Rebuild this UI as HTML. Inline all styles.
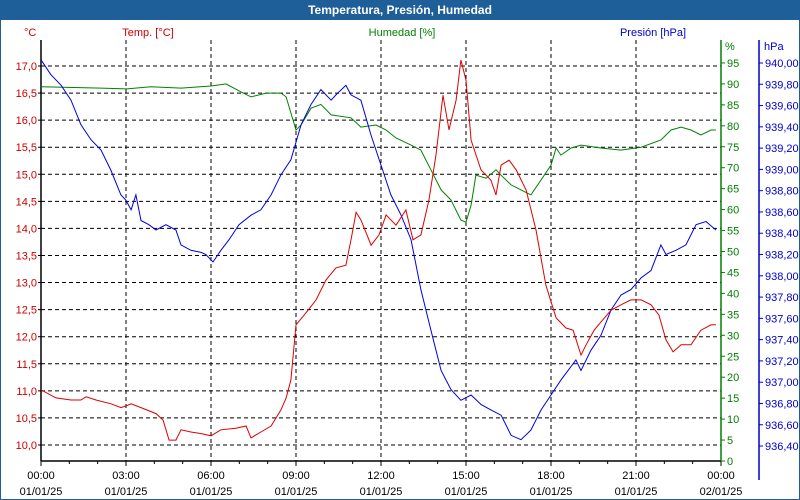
<!DOCTYPE html>
<html><head><meta charset="utf-8"><style>
body{margin:0;background:#fff}
#wrap{position:relative;width:800px;height:500px;box-sizing:border-box;border:1px solid #1f5f99;border-top:none;overflow:hidden;font-family:"Liberation Sans",sans-serif}
#title{height:20px;background:#1f5f99;color:#fff;font-weight:bold;font-size:12px;text-align:center;line-height:20px}
svg text{font-family:"Liberation Sans",sans-serif;font-size:11px}
</style></head><body>
<div id="wrap">
<div id="title">Temperatura, Presión, Humedad</div>
<svg id="chart" width="800" height="480" style="position:absolute;left:-1px;top:20px"></svg>
</div>
<script>
const tempHours=[0,0.53,1.06,1.41,1.59,1.94,2.47,2.82,3,3.18,3.53,4.06,4.31,4.52,4.76,4.94,5.29,5.65,6,6.35,6.88,7.24,7.41,7.76,8.12,8.47,8.65,8.82,9,9.35,9.71,10.06,10.41,10.76,10.94,11.12,11.29,11.65,11.93,12.18,12.53,12.88,13.13,13.41,13.69,13.94,14.19,14.4,14.65,14.82,15,15.18,15.53,15.88,16.06,16.24,16.52,16.77,17.12,17.47,17.82,18.18,18.53,18.78,19.06,19.24,19.52,19.76,20.12,20.47,20.82,21.18,21.53,21.81,22.06,22.31,22.59,22.94,23.29,23.65,23.82];
const tempValues=[11.02,10.87,10.83,10.83,10.89,10.83,10.76,10.69,10.72,10.76,10.69,10.58,10.46,10.09,10.09,10.28,10.24,10.21,10.17,10.28,10.31,10.35,10.13,10.24,10.35,10.65,10.87,11.2,12.22,12.44,12.68,13.05,13.27,13.32,13.79,14.3,14.16,13.69,13.88,14.25,14.06,14.34,13.79,13.88,14.52,15.36,16.46,15.82,16.37,17.11,16.74,15.63,15.08,14.89,14.62,15.17,15.26,15.08,14.71,13.97,12.95,12.35,12.16,12.12,11.66,11.85,12.12,12.27,12.49,12.59,12.68,12.68,12.59,12.4,11.94,11.72,11.85,11.85,12.12,12.22,12.22];
const humHours=[0,2.12,3,3.88,4.94,6,6.53,7.06,7.41,7.94,8.47,8.65,9,9.18,9.53,9.88,10.24,10.94,11.29,11.82,12.18,12.53,13.06,13.41,13.76,14.12,14.47,14.82,15,15.18,15.35,15.71,16.06,16.24,16.59,16.94,17.29,17.65,18,18.18,18.35,18.71,19.06,19.76,20.47,21.18,21.88,22.24,22.59,22.94,23.29,23.65,23.82];
const humValues=[89.3,89,88.8,89.3,89,89.5,90,88.1,86.9,87.8,87.8,86.9,79,80.2,84.2,85.1,82.6,81.9,79.7,80.2,79,77.1,75.4,74.2,69.5,64.7,62.3,57.5,57,61.1,68.2,67.5,69.5,68.2,65.9,64.7,63.5,67.1,70.6,74.7,73,74.7,75.4,74.7,74.2,74.9,76.6,79,79.7,79,77.8,79,79];
const presHours=[0,0.35,0.71,1.06,1.41,1.76,2.12,2.47,2.82,3,3.18,3.35,3.53,3.81,4.06,4.41,4.76,4.94,5.29,5.65,5.82,6.07,6.35,6.64,6.99,7.41,7.76,8.12,8.47,8.82,9.18,9.53,9.88,10.24,10.41,10.76,10.94,11.29,11.65,12,12.35,12.71,13.06,13.41,13.76,14.12,14.47,14.82,15.18,15.53,15.88,16.24,16.59,16.94,17.29,17.65,18,18.35,18.88,19.06,19.41,19.76,20.12,20.47,20.82,21.18,21.53,21.88,22.06,22.41,22.76,23.12,23.47,23.82];
const presValues=[940.03,939.89,939.79,939.65,939.42,939.28,939.18,938.99,938.76,938.71,938.62,938.76,938.52,938.48,938.43,938.48,938.43,938.29,938.24,938.22,938.2,938.13,938.24,938.34,938.48,938.57,938.62,938.76,938.95,939.09,939.42,939.61,939.75,939.65,939.7,939.79,939.7,939.65,939.32,939.04,938.76,938.57,938.34,937.87,937.49,937.11,936.93,936.83,936.88,936.79,936.74,936.69,936.5,936.46,936.55,936.74,936.88,937.02,937.21,937.11,937.3,937.44,937.68,937.82,937.87,937.98,938.05,938.29,938.2,938.24,938.29,938.48,938.51,938.43];
const tempTicks=["10,0","10,5","11,0","11,5","12,0","12,5","13,0","13,5","14,0","14,5","15,0","15,5","16,0","16,5","17,0"];
const humTicks=["0","5","10","15","20","25","30","35","40","45","50","55","60","65","70","75","80","85","90","95"];
const presTicks=["936,40","936,60","936,80","937,00","937,20","937,40","937,60","937,80","938,00","938,20","938,40","938,60","938,80","939,00","939,20","939,40","939,60","939,80","940,00"];
const xTicks=[["00:00","01/01/25"],["03:00","01/01/25"],["06:00","01/01/25"],["09:00","01/01/25"],["12:00","01/01/25"],["15:00","01/01/25"],["18:00","01/01/25"],["21:00","01/01/25"],["00:00","02/01/25"]];

const L=41,R=721,T=20,B=441;
const X=h=>L+h*(R-L)/24;
const YT=v=>46+(17-v)*54.14;
const YH=v=>441-v*4.19;
const YP=v=>43+(940-v)*106.4;
const svg=document.getElementById('chart');
const NS='http://www.w3.org/2000/svg';
function mk(t,a,p){const e=document.createElementNS(NS,t);for(const k in a)e.setAttribute(k,a[k]);(p||svg).appendChild(e);return e;}
// grid
tempTicks.forEach((t,i)=>{const y=YT(10+i*0.5);
 const g=mk('line',{x1:L,x2:R,y1:y,y2:y,stroke:'#000','stroke-dasharray':'4,3','stroke-width':1});
 
 
 const tx=mk('text',{x:L-4,y:y+4,'text-anchor':'end',fill:'#cc0000'});tx.textContent=t;
 
 
 mk('line',{x1:L-3,x2:L,y1:y,y2:y,stroke:'#000'});
});
xTicks.forEach((t,i)=>{const x=X(i*3);
 if(i>0&&i<8){const g=mk('line',{x1:x,x2:x,y1:T,y2:B,stroke:'#000','stroke-dasharray':'4,3'});
 
 }
 const a=mk('text',{x:x,y:B+18,'text-anchor':'middle',fill:'#000'});a.textContent=t[0];
 
 
 const b=mk('text',{x:x,y:B+34,'text-anchor':'middle',fill:'#000'});b.textContent=t[1];
 
 
});
for(let h=0;h<=24;h++){mk('line',{x1:X(h),x2:X(h),y1:B,y2:B+(h%3?3:5),stroke:'#000'});}
// axes
mk('line',{x1:L,x2:L,y1:T,y2:B,stroke:'#000','stroke-width':1.5});
mk('line',{x1:L,x2:R,y1:B,y2:B,stroke:'#000','stroke-width':1.5});
mk('line',{x1:R,x2:R,y1:T,y2:B,stroke:'#008000','stroke-width':1.5});
mk('line',{x1:759,x2:759,y1:20,y2:460,stroke:'#0000cc','stroke-width':1.5});
humTicks.forEach((t,i)=>{const y=YH(i*5);mk('line',{x1:R,x2:R+4,y1:y,y2:y,stroke:'#008000'});
 const tx=mk('text',{x:R+6,y:y+4,fill:'#008000'});tx.textContent=t;
 
 });
presTicks.forEach((t,i)=>{const y=YP(936.4+i*0.2);mk('line',{x1:759,x2:763,y1:y,y2:y,stroke:'#0000cc'});
 const tx=mk('text',{x:765,y:y+4,fill:'#0000cc'});tx.textContent=t;
 
 });
// titles
[['°C',24,16,'#cc0000','start','temp-axis-unit'],['Temp. [°C]',148,16,'#cc0000','middle','temp-series-title'],['Humedad [%]',402,16,'#008000','middle','humidity-series-title'],['Presión [hPa]',653,16,'#0000cc','middle','pressure-series-title'],['%',725,30,'#008000','start','humidity-axis-unit'],['hPa',764,30,'#0000cc','start','pressure-axis-unit']].forEach(a=>{
 const tx=mk('text',{x:a[1],y:a[2],fill:a[3],'text-anchor':a[4]});tx.textContent=a[0];
 
 });
function line(hs,vs,fy,col,name){const d=hs.map((h,i)=>(i?'L':'M')+X(h).toFixed(1)+','+fy(vs[i]).toFixed(1)).join('');
 const p=mk('path',{d:d,fill:'none',stroke:col,'stroke-width':1});
 
 }
line(humHours,humValues,YH,'#008000','humidity-line');
line(presHours,presValues,YP,'#0000dd','pressure-line');
line(tempHours,tempValues,YT,'#dd0000','temperature-line');
</script>
</body></html>
